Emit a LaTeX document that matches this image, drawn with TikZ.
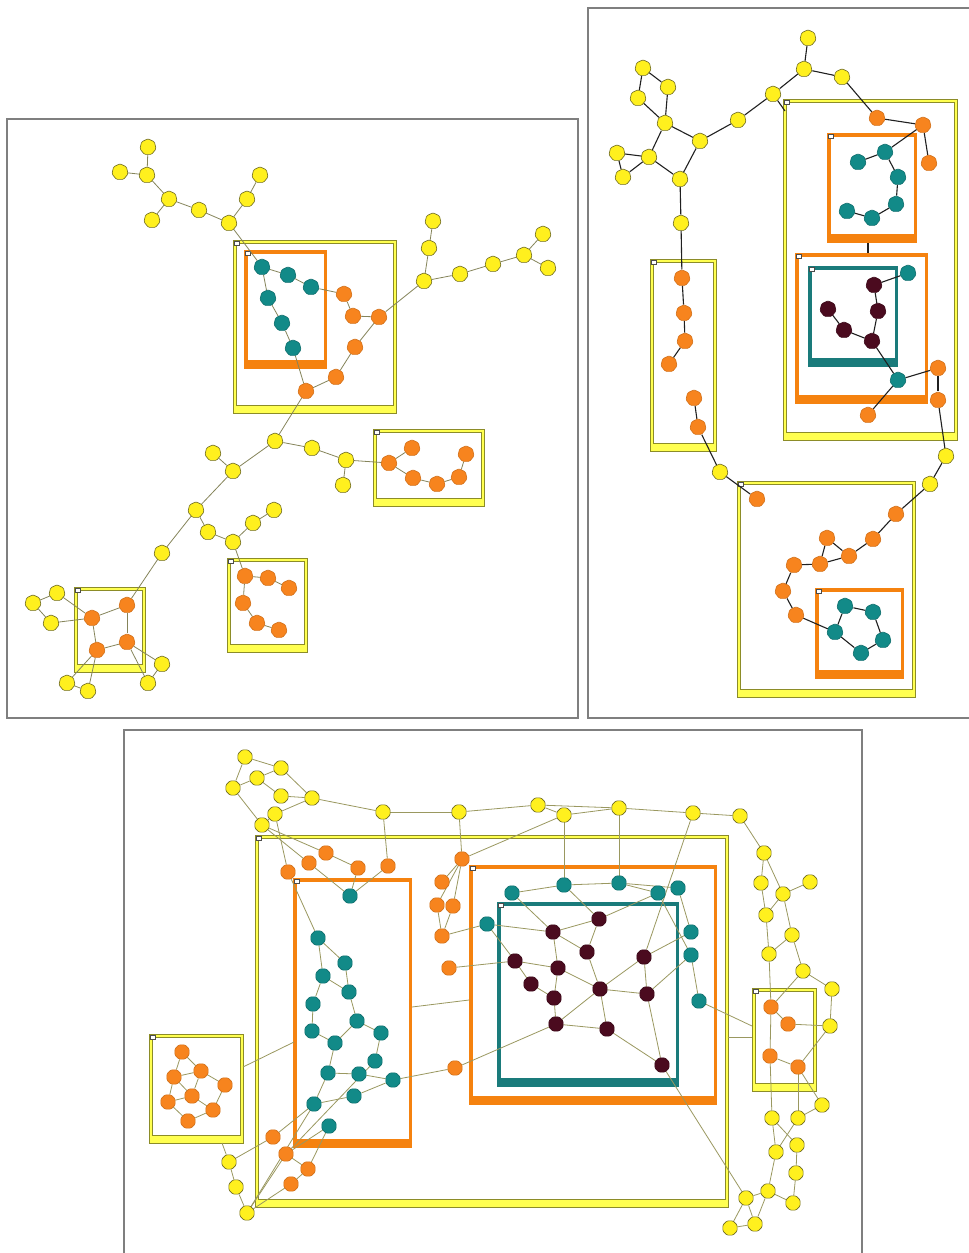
\documentclass[tikz,border=0pt]{standalone}
\usetikzlibrary{shapes.geometric}
\definecolor{yfill}{HTML}{FFF01E}
\definecolor{yline}{HTML}{6E6A20}
\definecolor{ofill}{HTML}{F7841E}
\definecolor{tfill}{HTML}{128A88}
\definecolor{mfill}{HTML}{4B0B1F}
\definecolor{ybfill}{HTML}{FFFF50}
\definecolor{ybline}{HTML}{8C8C28}
\definecolor{obox}{HTML}{F5820F}
\definecolor{tbox}{HTML}{1A7B7B}
\definecolor{edgeA}{HTML}{85845A}
\definecolor{edgeB}{HTML}{202020}
\definecolor{edgeC}{HTML}{9A9860}
\definecolor{panel}{HTML}{7F7F7F}
\pgfdeclarelayer{boxl}
\pgfdeclarelayer{edgel}
\pgfsetlayers{boxl,edgel,main}
\tikzset{
  gnode/.style={regular polygon,regular polygon sides=7,minimum size=16.5pt,inner sep=0pt,line width=0.6pt,rounded corners=1.2pt},
  yn/.style={gnode,fill=yfill,draw=yline},
  on/.style={gnode,fill=ofill,draw=ofill!85!black},
  tn/.style={gnode,fill=tfill,draw=tfill!80!black},
  mn/.style={gnode,fill=mfill,draw=mfill!80!black},
  byn/.style={yn,regular polygon sides=8,minimum size=15.5pt},
  bon/.style={on,regular polygon sides=8,minimum size=15.5pt},
  btn/.style={tn,regular polygon sides=8,minimum size=15.5pt},
  bmn/.style={mn,regular polygon sides=8,minimum size=15.5pt},
  ea/.style={draw=edgeA,line width=0.8pt},
  eb/.style={draw=edgeB,line width=1.1pt},
  ec/.style={draw=edgeC,line width=0.8pt},
  panelline/.style={draw=panel,line width=1.3pt},
}
\newcommand\YBox[4]{%
  \filldraw[fill=ybfill,draw=ybline,line width=0.9pt] (#1,#2) rectangle (#3,#4);
  \filldraw[fill=white,draw=ybline,line width=0.9pt] (#1+3,#2+3) rectangle (#3-3,#4-8);
  \filldraw[fill=white,draw=gray!60!black,line width=0.6pt] (#1+1,#2+1) rectangle (#1+6,#2+5);
}
\newcommand\CBox[5]{%
  \fill[#5] (#1,#2) rectangle (#3,#4);
  \fill[white] (#1+3.5,#2+3.5) rectangle (#3-3.5,#4-9);
  \filldraw[fill=white,draw=gray!60!black,line width=0.6pt] (#1+1.5,#2+1.5) rectangle (#1+6.5,#2+5.5);
}
\begin{document}
\begin{tikzpicture}[x=1pt,y=-1pt]
\useasboundingbox (0,0) rectangle (969,1253);
% ---------- panels ----------
\draw[panelline] (7,119) rectangle (578,718);
\draw[panelline] (975,8) -- (588,8) -- (588,718) -- (975,718);
\draw[panelline] (862,1262) -- (862,730) -- (124,730) -- (124,1262);
% ---------- boxes ----------
\begin{pgfonlayer}{boxl}
% top-left
\YBox{233}{240}{396}{413}
\CBox{244}{250}{327}{369}{obox}
\YBox{373}{429}{484}{506}
\YBox{227}{558}{307}{652}
\YBox{74}{587}{145}{672}
% top-right
\YBox{783}{99}{957}{440}
\CBox{827}{133}{917}{243}{obox}
\CBox{795}{253}{928}{404}{obox}
\CBox{808}{266}{898}{367}{tbox}
\YBox{650}{259}{716}{451}
\YBox{737}{481}{915}{697}
\CBox{815}{588}{904}{679}{obox}
% bottom
\YBox{255}{835}{728}{1207}
\CBox{293}{878}{412}{1148}{obox}
\CBox{469}{865}{717}{1105}{obox}
\CBox{497}{902}{679}{1087}{tbox}
\YBox{149}{1034}{243}{1143}
\YBox{752}{988}{816}{1091}
\end{pgfonlayer}
% ---------- top-left nodes ----------
\foreach \n/\x/\y in {a1/148/147,a2/120/172,a3/147/175,a4/169/199,a5/152/220,a6/199/210,a7/229/223,a8/247/199,a9/260/175,
  a10/424/281,a11/429/248,a12/433/221,a13/460/274,a14/493/264,a15/524/255,a16/543/234,a17/548/268,
  a20/275/441,a21/312/448,a22/346/460,a23/343/485,a24/213/453,a25/233/471,a26/196/510,a27/208/532,a28/233/542,a29/253/523,a30/274/510,a31/162/553,
  a40/33/603,a41/57/593,a42/51/623,a43/67/683,a44/88/691,a45/162/664,a46/148/683}
  \node[yn] (\n) at (\x,\y) {};
\foreach \n/\x/\y in {t1/262/267,t2/288/275,t3/268/298,t4/282/323,t5/293/348,t6/311/287}
  \node[tn] (\n) at (\x,\y) {};
\foreach \n/\x/\y in {o1/344/294,o2/353/316,o3/379/317,o4/355/347,o5/336/377,o6/306/391,
  p1/389/463,p2/412/448,p3/413/478,p4/437/484,p5/459/477,p6/466/454,
  q1/245/576,q2/268/578,q3/289/588,q4/243/603,q5/257/623,q6/279/630,
  r1/92/618,r2/127/605,r3/97/650,r4/127/642}
  \node[on] (\n) at (\x,\y) {};
\begin{pgfonlayer}{edgel}
\foreach \a/\b in {a1/a3,a2/a3,a3/a4,a4/a5,a4/a6,a6/a7,a7/a8,a8/a9,a7/t1,
  t1/t2,t2/t6,t1/t3,t3/t4,t4/t5,t6/o1,t5/o6,
  o1/o2,o2/o3,o3/o4,o4/o5,o5/o6,o3/a10,o6/a20,
  a10/a11,a11/a12,a10/a13,a13/a14,a14/a15,a15/a16,a15/a17,
  a20/a21,a21/a22,a22/a23,a22/p1,a20/a25,a24/a25,a25/a26,a26/a27,a27/a28,a28/a29,a29/a30,a26/a31,a31/r2,a28/q1,
  p1/p2,p1/p3,p3/p4,p4/p5,p5/p6,
  q1/q2,q2/q3,q1/q4,q4/q5,q5/q6,
  r1/r2,r1/r3,r3/r4,r2/r4,
  a41/r1,a40/a41,a40/a42,a42/r1,r3/a43,r3/a44,a43/a44,r4/a45,r4/a46,a45/a46}
  \draw[ea] (\a) -- (\b);
\end{pgfonlayer}
% ---------- top-right nodes ----------
\foreach \n/\x/\y in {b1/808/38,b2/804/69,b3/842/77,b4/773/94,b5/738/120,b6/700/141,b7/665/123,b8/638/98,b9/643/68,b10/668/87,
  b11/649/157,b12/617/153,b13/623/177,b14/680/179,b15/681/223,g1/946/456,g2/930/484,i1/720/472}
  \node[yn] (\n) at (\x,\y) {};
\foreach \n/\x/\y in {c1/877/118,c2/923/125,c3/929/163,f1/938/368,f2/938/400,f3/868/415,
  h1/682/278,h2/684/313,h3/685/341,h4/669/364,h5/694/398,h6/698/427,
  j1/757/499,j2/896/514,j3/873/539,j4/849/556,j5/827/538,j6/820/564,j7/794/565,j8/783/591,j9/796/615}
  \node[on] (\n) at (\x,\y) {};
\foreach \n/\x/\y in {d1/885/152,d2/858/162,d3/898/177,d4/896/204,d5/872/218,d6/847/211,e1/908/273,e2/898/380,
  k1/835/632,k2/845/606,k3/873/612,k4/883/640,k5/861/653}
  \node[tn] (\n) at (\x,\y) {};
\foreach \n/\x/\y in {m1/874/285,m2/828/309,m3/878/311,m4/844/330,m5/872/341}
  \node[mn] (\n) at (\x,\y) {};
\coordinate (cb4) at (785,111);
\coordinate (cob1) at (868,243);
\coordinate (cob2) at (868,253);
\begin{pgfonlayer}{edgel}
\foreach \a/\b in {b1/b2,b2/b3,b2/b4,b4/b5,b5/b6,b6/b7,b7/b8,b8/b9,b9/b10,b10/b7,b7/b11,b11/b12,b11/b13,b12/b13,b11/b14,b6/b14,b14/b15,b15/h1,b4/cb4,
  b3/c1,c1/c2,c2/c3,c2/d1,d1/d2,d1/d3,d3/d4,d4/d5,d5/d6,cob1/cob2,
  m1/m3,m3/m5,m2/m4,m4/m5,m1/e1,m5/e2,e2/f1,e2/f3,f1/f2,f2/g1,g1/g2,g2/j2,
  h1/h2,h2/h3,h3/h4,h5/h6,h6/i1,i1/j1,
  j2/j3,j3/j4,j4/j5,j5/j6,j4/j6,j6/j7,j7/j8,j8/j9,j9/k1,
  k1/k2,k2/k3,k3/k4,k4/k5,k5/k1}
  \draw[eb] (\a) -- (\b);
\end{pgfonlayer}
% ---------- bottom nodes ----------
\foreach \n/\x/\y in {u1/245/757,u2/281/768,u3/257/778,u4/233/788,u5/281/796,u6/312/798,u7/275/814,u8/262/825,u9/383/812,u10/459/812,
  u11/538/805,u12/564/815,u13/619/808,u14/693/813,u15/740/816,
  s1/764/853,s2/761/883,s3/783/894,s4/810/882,s5/766/915,s6/792/935,s7/769/954,s8/803/971,s9/832/989,s10/830/1026,
  s11/822/1105,s12/772/1118,s13/798/1118,s14/797/1145,s15/776/1152,s16/796/1173,s17/768/1191,s18/793/1203,s19/746/1198,s20/755/1224,s21/730/1228,
  yb1/229/1162,yb2/236/1187,yb3/247/1213}
  \node[byn] (\n) at (\x,\y) {};
\foreach \n/\x/\y in {v1/288/872,v2/309/863,v3/326/853,v4/358/868,v5/388/866,
  x1/462/859,x2/442/882,x3/437/905,x4/453/906,x5/442/936,x6/449/968,xo/455/1068,
  ob1/273/1137,ob2/286/1154,ob3/308/1169,ob4/291/1184,
  l1/182/1052,l2/201/1071,l3/174/1077,l4/225/1085,l5/192/1096,l6/168/1102,l7/213/1110,l8/188/1121,
  st1/771/1007,st2/788/1024,st3/770/1056,st4/798/1067}
  \node[bon] (\n) at (\x,\y) {};
\foreach \n/\x/\y in {w1/350/896,w2/318/938,w3/345/963,w4/323/976,w5/349/992,w9/313/1004,w10/357/1021,w11/312/1031,w12/335/1043,
  w13/381/1033,w14/375/1061,w15/328/1073,w16/359/1074,w17/393/1080,w18/354/1096,w19/314/1104,w20/329/1126,
  z1/512/893,z2/564/885,z3/619/883,z4/658/893,z5/678/888,z6/487/924,z7/691/932,z8/691/955,z9/699/1001}
  \node[btn] (\n) at (\x,\y) {};
\foreach \n/\x/\y in {n1/599/919,n2/553/932,n3/587/952,n4/515/961,n5/558/968,n6/644/957,n7/531/984,n8/600/989,n9/647/994,
  n10/554/998,n11/556/1024,n12/607/1029,n13/662/1065}
  \node[bmn] (\n) at (\x,\y) {};
\coordinate (cz9) at (752,1026);
\coordinate (cyr1) at (728,1037);
\coordinate (cyr2) at (752,1037);
\coordinate (cl1) at (243,1067);
\coordinate (cl2) at (294,1042);
\coordinate (co1) at (412,1007);
\coordinate (co2) at (469,1000);
\coordinate (clb) at (222,1143);
\begin{pgfonlayer}{edgel}
\foreach \a/\b in {u1/u2,u1/u4,u4/u3,u3/u2,u3/u5,u5/u6,u2/u6,u4/u8,u6/u7,u7/u8,u6/u9,u9/u10,u10/u11,u11/u12,u11/u13,u12/u13,u13/u14,u14/u15,
  u7/v1,v1/w2,u8/v2,v2/w1,u8/v3,v3/v4,v4/w1,u9/v5,v5/w1,
  u10/x1,u12/x1,x1/x2,x1/x3,x1/x4,x3/x5,x4/x5,x5/z6,x6/n4,
  u12/z2,u13/z3,u14/n6,
  z1/z2,z2/z3,z3/z4,z3/z5,z5/z7,z4/z8,z8/z9,z4/n1,
  z1/n2,z6/n2,z6/n4,z2/n1,n1/n2,n1/n3,n2/n3,n3/n8,n2/n5,n4/n5,n4/n7,n7/n10,n5/n10,n10/n11,n5/n8,n8/n11,
  n8/n9,n8/n6,n8/n12,n11/n12,n11/xo,n12/n13,n9/n13,n6/n9,n6/z7,n9/z8,n13/s19,
  z9/cz9,cyr1/cyr2,cl1/cl2,co1/co2,clb/yb1,
  w2/w3,w2/w4,w4/w5,w3/w5,w4/w9,w5/w10,w9/w11,w11/w12,w10/w12,w10/w13,w13/w14,w12/w15,w15/w16,w16/w17,w17/xo,
  w15/w19,w19/w18,w18/w17,w14/ob2,w19/ob1,w20/ob2,
  yb1/yb2,yb2/yb3,yb1/ob1,yb3/ob2,yb3/ob4,yb3/w19,ob4/ob3,ob3/w20,ob2/ob3,
  l1/l2,l1/l3,l3/l2,l2/l5,l2/l4,l3/l5,l3/l6,l5/l6,l5/l7,l4/l7,l6/l8,l7/l8,
  u15/s1,s1/s2,s1/s3,s2/s5,s3/s4,s3/s5,s3/s6,s5/s7,s6/s7,s6/s8,s8/s9,s9/s10,
  s7/st1,s8/st1,st1/st2,st2/s10,st1/st3,st3/st4,st4/s10,st4/s11,st3/s12,st4/s13,
  s11/s13,s13/s15,s12/s15,s12/s14,s14/s16,s15/s17,s16/s18,s17/s18,s17/s19,s17/s20,s19/s20,s19/s21,s20/s21}
  \draw[ec] (\a) -- (\b);
\end{pgfonlayer}
\end{tikzpicture}
\end{document}
